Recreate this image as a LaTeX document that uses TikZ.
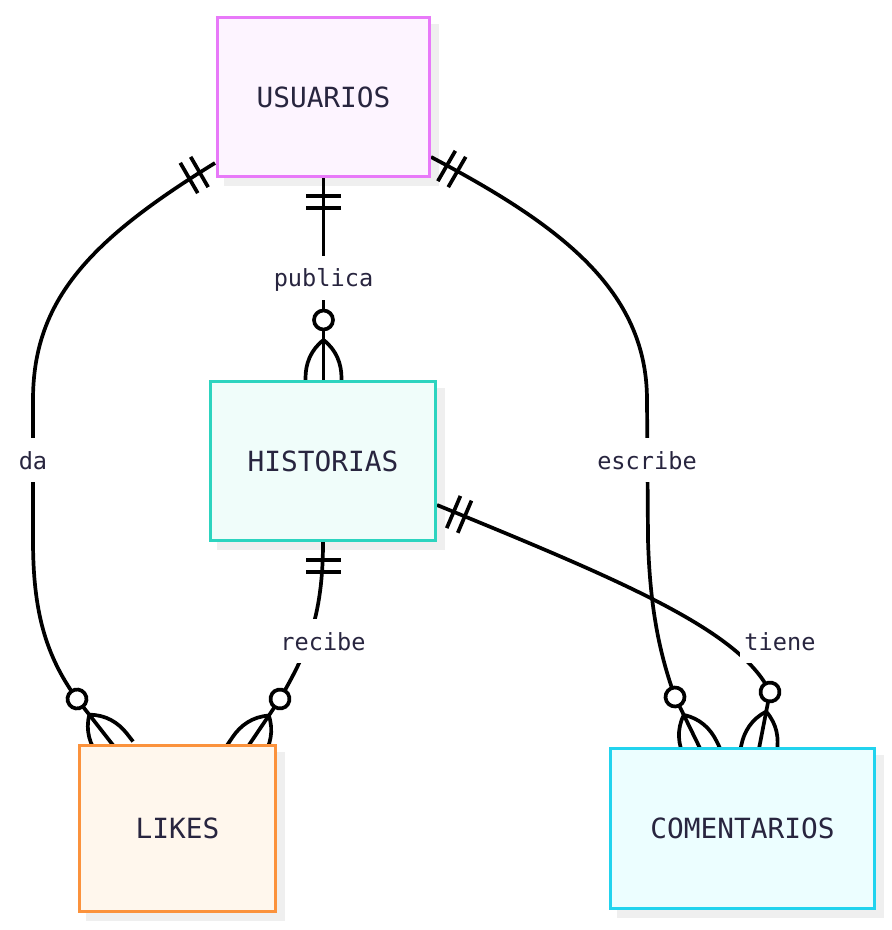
\documentclass[tikz,border=0pt]{standalone}
\usepackage{fontspec}
\setmonofont{DejaVu Sans Mono}
\usepackage{tikz}
\usetikzlibrary{calc}
\definecolor{usuB}{HTML}{E879F9}
\definecolor{usuF}{HTML}{FDF4FF}
\definecolor{hisB}{HTML}{2DD4BF}
\definecolor{hisF}{HTML}{F0FDFA}
\definecolor{likB}{HTML}{FB923C}
\definecolor{likF}{HTML}{FFF7ED}
\definecolor{comB}{HTML}{22D3EE}
\definecolor{comF}{HTML}{ECFEFF}
\definecolor{inkx}{HTML}{28253F}
\definecolor{shadowx}{HTML}{EFEFEF}
\pgfdeclarelayer{shade}
\pgfdeclarelayer{links}
\pgfsetlayers{shade,links,main}
\tikzset{
  entity/.style={draw,line width=1.7pt,inner sep=0pt,text=inkx,font=\ttfamily\fontsize{13.9}{16}\selectfont},
  rel/.style={line width=1.85pt,black},
  lbl/.style={fill=white,text=inkx,inner xsep=2pt,inner ysep=5.2pt,text height=10.3pt,text depth=1.3pt,font=\ttfamily\fontsize{11.8}{14}\selectfont}
}
% exactly-one end
\newcommand\onebars[2]{%
  \begin{scope}[shift={(#1)},rotate=#2]
    \draw[rel] (18,-17.5) -- (18,17.5) (30,-17.5) -- (30,17.5);
  \end{scope}}
% zero-or-many end, circle centre at #1
\newcommand\crowfoot[2]{%
  \begin{scope}[shift={(#1)},rotate=#2]
    \draw[rel] (9.5,0) -- (68,0);
    \draw[rel] (20,0) .. controls (30,13) and (44,18) .. (58,18) -- (68,18);
    \draw[rel] (20,0) .. controls (30,-13) and (44,-18) .. (58,-18) -- (68,-18);
    \draw[rel,fill=white] (0,0) circle (4.75pt);
  \end{scope}}

\begin{document}
\begin{tikzpicture}[x=0.5pt,y=-0.5pt]
\useasboundingbox (0,0) rectangle (892,930);
% entities
\node[entity,draw=usuB,fill=usuF,minimum width=106pt,minimum height=79.5pt] (usu) at (323.5,97) {USUARIOS};
\node[entity,draw=hisB,fill=hisF,minimum width=112.5pt,minimum height=79.5pt] (his) at (323,461) {HISTORIAS};
\node[entity,draw=likB,fill=likF,minimum width=98pt,minimum height=83pt] (lik) at (177.5,828.5) {LIKES};
\node[entity,draw=comB,fill=comF,minimum width=132pt,minimum height=80pt] (com) at (742.5,828.5) {COMENTARIOS};
\begin{pgfonlayer}{shade}
\foreach \e in {usu,his,lik,com}
  \fill[shadowx] ($(\e.south west)+(8,8)$) rectangle ($(\e.north east)+(8,8)$);
\end{pgfonlayer}
% relationships
\begin{pgfonlayer}{links}
\coordinate (da-s) at (215,163);
\coordinate (es-s) at (431,157);
\coordinate (ti-s) at (437,505);
\coordinate (pu-c) at (323.5,320);
\coordinate (da-c) at (77,699);
\coordinate (re-c) at (280,699);
\coordinate (es-c) at (675,697);
\coordinate (ti-c) at (770,692);
\draw[rel] (usu.south) -- (pu-c);
\draw[rel] (da-s) .. controls (90,240) and (33,300) .. (33,400) -- (33,540)
  .. controls (33,610) and (45,655) .. (da-c);
\draw[rel] (es-s) .. controls (560,225) and (647,290) .. (647,400) -- (648,540)
  .. controls (650,610) and (660,655) .. (es-c);
\draw[rel] (his.south) .. controls (323,620) and (305,655) .. (re-c);
\draw[rel] (ti-s) .. controls (620,580) and (740,630) .. (ti-c);
\onebars{usu.south}{-90}
\onebars{da-s}{-150}
\onebars{es-s}{-30}
\onebars{his.south}{-90}
\onebars{ti-s}{-23}
\crowfoot{pu-c}{-90}
\crowfoot{da-c}{-52}
\crowfoot{re-c}{-124}
\crowfoot{es-c}{-64}
\crowfoot{ti-c}{-101}
\node[lbl] (l-pub) at (323.5,278) {publica};
\node[lbl] (l-da) at (33,460) {da};
\node[lbl] (l-esc) at (647,460) {escribe};
\node[lbl] (l-rec) at (323,641) {recibe};
\node[lbl] (l-tie) at (780,641) {tiene};
\end{pgfonlayer}
\end{tikzpicture}
\end{document}
